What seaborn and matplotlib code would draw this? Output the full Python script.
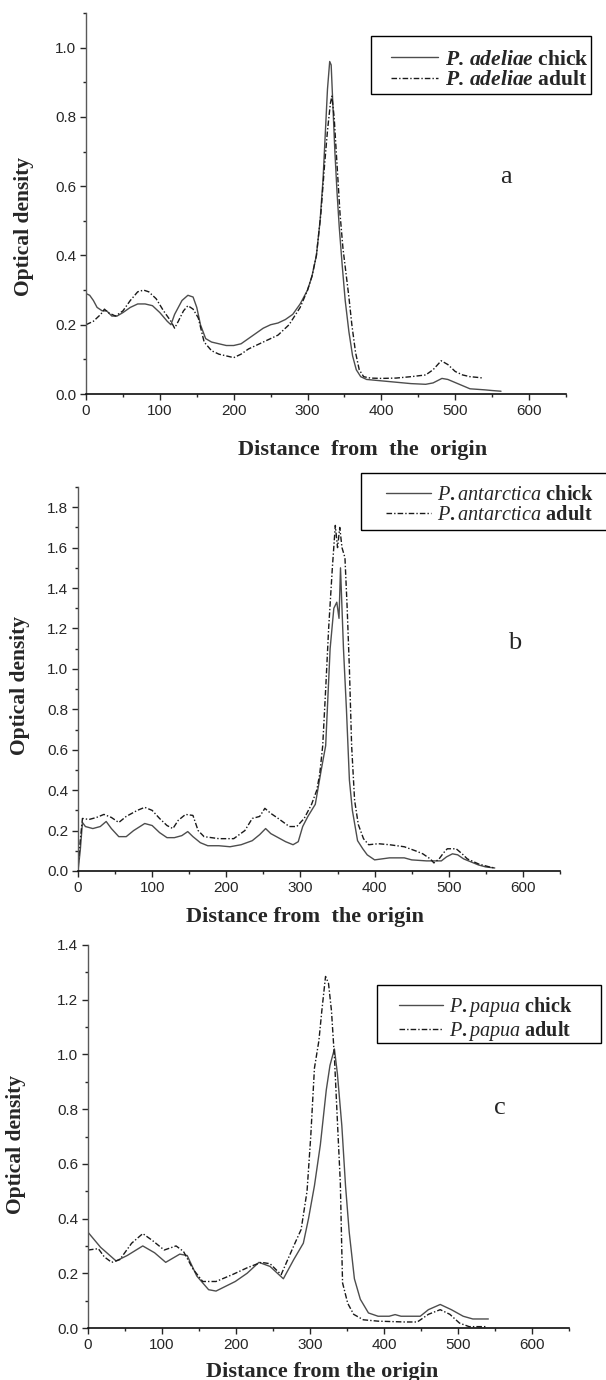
import matplotlib
matplotlib.use("Agg")
import matplotlib.pyplot as plt
import seaborn as sns
from matplotlib.patches import Rectangle
from matplotlib.ticker import MultipleLocator, FormatStrFormatter

# ---- data ----
# panel a, P. adeliae
a_chick_x = [0, 5, 10, 15, 22, 28, 35, 42, 50, 60, 70, 80, 90, 100, 110, 115, 120, 130, 138, 145,
             150, 155, 162, 170, 180, 190, 200, 210, 220, 230, 240, 250, 260, 270, 280, 290, 300,
             306, 312, 317, 321, 324, 327, 330, 332, 334, 337, 340, 343, 347, 351, 356, 361, 366,
             372, 380, 390, 400, 420, 440, 460, 470, 482, 490, 500, 510, 520, 540, 550, 562]
a_chick_y = [0.29, 0.285, 0.27, 0.25, 0.24, 0.24, 0.225, 0.225, 0.235, 0.25, 0.26, 0.26, 0.255, 0.235,
             0.21, 0.20, 0.23, 0.27, 0.285, 0.28, 0.25, 0.20, 0.16, 0.15, 0.145, 0.14, 0.14, 0.145,
             0.16, 0.175, 0.19, 0.20, 0.205, 0.215, 0.23, 0.26, 0.30, 0.34, 0.40, 0.50, 0.62, 0.75,
             0.88, 0.96, 0.95, 0.85, 0.70, 0.58, 0.48, 0.37, 0.27, 0.18, 0.11, 0.07, 0.05, 0.042,
             0.04, 0.038, 0.034, 0.03, 0.028, 0.032, 0.045, 0.042, 0.033, 0.024, 0.015, 0.012,
             0.01, 0.008]
a_adult_x = [0, 10, 20, 25, 30, 40, 50, 60, 70, 78, 85, 95, 105, 115, 120, 125, 132, 138, 145, 152,
             160, 170, 180, 190, 200, 210, 220, 240, 260, 275, 290, 300, 306, 312, 318, 323, 327,
             331, 333, 336, 340, 344, 348, 352, 356, 360, 365, 370, 376, 385, 400, 420, 440, 460,
             470, 481, 490, 500, 510, 520, 530, 538]
a_adult_y = [0.20, 0.21, 0.23, 0.245, 0.235, 0.225, 0.24, 0.27, 0.295, 0.30, 0.295, 0.275, 0.24, 0.21,
             0.19, 0.21, 0.24, 0.255, 0.245, 0.22, 0.15, 0.125, 0.115, 0.11, 0.105, 0.115, 0.13,
             0.15, 0.17, 0.20, 0.25, 0.30, 0.34, 0.40, 0.52, 0.66, 0.76, 0.84, 0.86, 0.80, 0.66,
             0.52, 0.42, 0.35, 0.28, 0.20, 0.12, 0.07, 0.05, 0.046, 0.045, 0.046, 0.05, 0.055, 0.07,
             0.096, 0.085, 0.065, 0.055, 0.05, 0.048, 0.046]

# panel b, P. antarctica
b_chick_x = [0, 3, 6, 10, 20, 30, 38, 45, 55, 65, 75, 90, 100, 110, 120, 130, 140, 148, 155, 165,
             175, 190, 205, 220, 235, 245, 253, 260, 270, 280, 290, 297, 303, 310, 320, 328, 334,
             340, 345, 349, 352, 354, 356, 358, 362, 366, 370, 377, 384, 390, 400, 410, 420, 440,
             450, 470, 490, 497, 505, 512, 520, 530, 540, 550, 562]
b_chick_y = [0.0, 0.10, 0.24, 0.22, 0.21, 0.22, 0.245, 0.21, 0.17, 0.17, 0.20, 0.235, 0.225, 0.19,
             0.165, 0.165, 0.175, 0.195, 0.17, 0.14, 0.125, 0.125, 0.12, 0.13, 0.15, 0.18, 0.21,
             0.185, 0.165, 0.145, 0.13, 0.145, 0.22, 0.27, 0.33, 0.50, 0.62, 1.10, 1.30, 1.33, 1.25,
             1.50, 1.30, 1.10, 0.80, 0.45, 0.30, 0.15, 0.11, 0.08, 0.055, 0.06, 0.065, 0.065, 0.055,
             0.05, 0.05, 0.07, 0.085, 0.08, 0.06, 0.045, 0.03, 0.02, 0.015]
b_adult_x = [0, 3, 6, 15, 25, 35, 45, 55, 65, 80, 90, 100, 110, 120, 128, 135, 145, 155, 162, 170,
             190, 210, 225, 235, 245, 252, 260, 270, 285, 295, 305, 315, 322, 326, 330, 334, 338,
             343, 347, 350, 353, 356, 360, 363, 366, 369, 373, 378, 385, 392, 405, 420, 440, 455,
             465, 475, 480, 487, 493, 498, 510, 518, 525, 540, 555, 562]
b_adult_y = [0.02, 0.15, 0.26, 0.255, 0.265, 0.28, 0.265, 0.24, 0.27, 0.30, 0.315, 0.30, 0.26, 0.225,
             0.21, 0.25, 0.28, 0.275, 0.20, 0.17, 0.16, 0.16, 0.20, 0.26, 0.27, 0.31, 0.285, 0.26,
             0.22, 0.22, 0.26, 0.33, 0.40, 0.48, 0.62, 0.90, 1.20, 1.50, 1.71, 1.60, 1.70, 1.60,
             1.55, 1.30, 1.00, 0.62, 0.35, 0.23, 0.16, 0.13, 0.135, 0.13, 0.12, 0.10, 0.085, 0.06,
             0.04, 0.06, 0.09, 0.11, 0.11, 0.085, 0.06, 0.035, 0.02, 0.015]

# panel c, P. papua
c_chick_x = [0, 17, 38, 53, 74, 90, 105, 124, 134, 147, 163, 173, 199, 215, 231, 246, 264, 278, 291,
             298, 306, 314, 322, 327, 331, 333, 337, 343, 348, 353, 360, 368, 379, 392, 407, 415,
             423, 449, 460, 476, 491, 507, 520, 541]
c_chick_y = [0.35, 0.295, 0.245, 0.265, 0.30, 0.275, 0.24, 0.27, 0.265, 0.19, 0.14, 0.135, 0.17, 0.20,
             0.24, 0.225, 0.18, 0.25, 0.31, 0.40, 0.52, 0.67, 0.87, 0.96, 1.00, 1.02, 0.93, 0.74,
             0.52, 0.35, 0.18, 0.105, 0.055, 0.043, 0.043, 0.049, 0.043, 0.043, 0.067, 0.086, 0.067,
             0.043, 0.033, 0.033]
c_adult_x = [0, 14, 22, 32, 43, 59, 74, 87, 103, 119, 129, 142, 155, 173, 195, 215, 234, 246, 261,
             278, 288, 296, 301, 306, 312, 316, 321, 325, 329, 333, 338, 341, 343, 344, 351, 359,
             372, 392, 428, 445, 460, 476, 489, 502, 515, 539]
c_adult_y = [0.285, 0.29, 0.26, 0.24, 0.25, 0.31, 0.345, 0.32, 0.285, 0.30, 0.28, 0.215, 0.17, 0.17,
             0.195, 0.22, 0.24, 0.235, 0.195, 0.30, 0.36, 0.50, 0.70, 0.95, 1.05, 1.16, 1.285, 1.26,
             1.16, 0.99, 0.70, 0.53, 0.28, 0.165, 0.09, 0.05, 0.03, 0.025, 0.022, 0.022, 0.05, 0.067,
             0.05, 0.018, 0.005, 0.005]

panels = [
    dict(chick=(a_chick_x, a_chick_y), adult=(a_adult_x, a_adult_y),
         labels=[r"$\mathbfit{P.\,adeliae}$ chick", r"$\mathbfit{P.\,adeliae}$ adult"],
         letter="a", ymax=1.1, xlabel="Distance  from  the  origin"),
    dict(chick=(b_chick_x, b_chick_y), adult=(b_adult_x, b_adult_y),
         labels=[r"$\mathit{P.antarctica}$ chick", r"$\mathit{P.antarctica}$ adult"],
         letter="b", ymax=1.9, xlabel="Distance from  the origin"),
    dict(chick=(c_chick_x, c_chick_y), adult=(c_adult_x, c_adult_y),
         labels=[r"$\mathit{P.papua}$ chick", r"$\mathit{P.papua}$ adult"],
         letter="c", ymax=1.4, xlabel="Distance from the origin"),
]

sns.set_style("ticks")
plt.rcParams["font.family"] = ["Liberation Sans", "DejaVu Sans"]
plt.rcParams["mathtext.fontset"] = "custom"
plt.rcParams["mathtext.rm"] = "Liberation Serif:bold"
plt.rcParams["mathtext.bf"] = "Liberation Serif:bold"
plt.rcParams["mathtext.it"] = "Liberation Serif:italic"
plt.rcParams["mathtext.bfit"] = "Liberation Serif:italic:bold"

W, H = 606, 1380
fig = plt.figure(figsize=(W / 100, H / 100), dpi=100)

# pixel boxes: left, right, bottom, top
boxes = [(86, 566, 394, 13), (78, 560, 871, 487), (88, 569, 1328, 945)]
# legend frame (x0, y0, x1, y1) and legend anchor (handle start x, centre y), font size
frames = [(371, 36, 591, 94), (361, 473, 640, 530), (377, 985, 601, 1043)]
anchors = [(391, 70), (386, 505), (399, 1019)]
leg_sizes = [15.5, 14.6, 14.5]
letter_pos = [(0.875, 0.57), (0.905, 0.594), (0.857, 0.574)]
xlabel_pos = [(0.577, -0.147), (0.471, -0.12), (0.487, -0.115)]
ylabel_pos = [(-0.13, 0.44), (-0.12, 0.484), (-0.15, 0.478)]

serif = ["Liberation Serif", "DejaVu Serif"]
dashdot = (0, (4, 1.5, 1, 1.5))

for i, p in enumerate(panels):
    l, r, b, t = boxes[i]
    ax = fig.add_axes([l / W, 1 - b / H, (r - l) / W, (b - t) / H])
    sns.lineplot(x=p["chick"][0], y=p["chick"][1], ax=ax, color="0.3", lw=1.0,
                 label=p["labels"][0], sort=False)
    sns.lineplot(x=p["adult"][0], y=p["adult"][1], ax=ax, color="0.1", lw=1.0,
                 linestyle=dashdot, label=p["labels"][1], sort=False)
    ax.set_xlim(0, 650)
    ax.set_ylim(0, p["ymax"])
    ax.xaxis.set_major_locator(MultipleLocator(100))
    ax.xaxis.set_minor_locator(MultipleLocator(50))
    ax.yaxis.set_major_locator(MultipleLocator(0.2))
    ax.yaxis.set_minor_locator(MultipleLocator(0.1))
    ax.yaxis.set_major_formatter(FormatStrFormatter("%.1f"))
    ax.tick_params(which="major", direction="out", length=4, width=1, labelsize=11,
                   colors="0.15", pad=3)
    ax.tick_params(which="minor", direction="out", length=2.5, width=1, colors="0.15")
    sns.despine(ax=ax)
    ax.spines["left"].set_color("0.35")
    ax.spines["bottom"].set_color("0.05")
    ax.spines["left"].set_linewidth(1.0)
    ax.spines["bottom"].set_linewidth(1.2)

    ax.set_xlabel(p["xlabel"], family=serif, weight="bold", size=16)
    ax.xaxis.set_label_coords(*xlabel_pos[i])
    ax.xaxis.label.set_va("center")
    ax.set_ylabel("Optical density", family=serif, weight="bold", size=15.5)
    ax.yaxis.set_label_coords(*ylabel_pos[i])
    ax.yaxis.label.set_va("center")

    ax.text(*letter_pos[i], p["letter"], transform=ax.transAxes, family=serif,
            size=19, ha="center", va="center")

    # legend without frame, frame drawn separately as in the original figure
    lx, ly = anchors[i]
    ax.legend(loc="center left", bbox_to_anchor=(lx / W, 1 - ly / H),
              bbox_transform=fig.transFigure, borderaxespad=0, borderpad=0,
              frameon=False, handlelength=2.2, handletextpad=0.3, labelspacing=0.02,
              prop=dict(family=serif, weight="bold", size=leg_sizes[i]))
    x0, y0, x1, y1 = frames[i]
    fig.add_artist(Rectangle((x0 / W, 1 - y1 / H), (x1 - x0) / W, (y1 - y0) / H,
                             transform=fig.transFigure, fill=False, ec="black", lw=1.0))

fig.savefig("out.png", dpi=100)
